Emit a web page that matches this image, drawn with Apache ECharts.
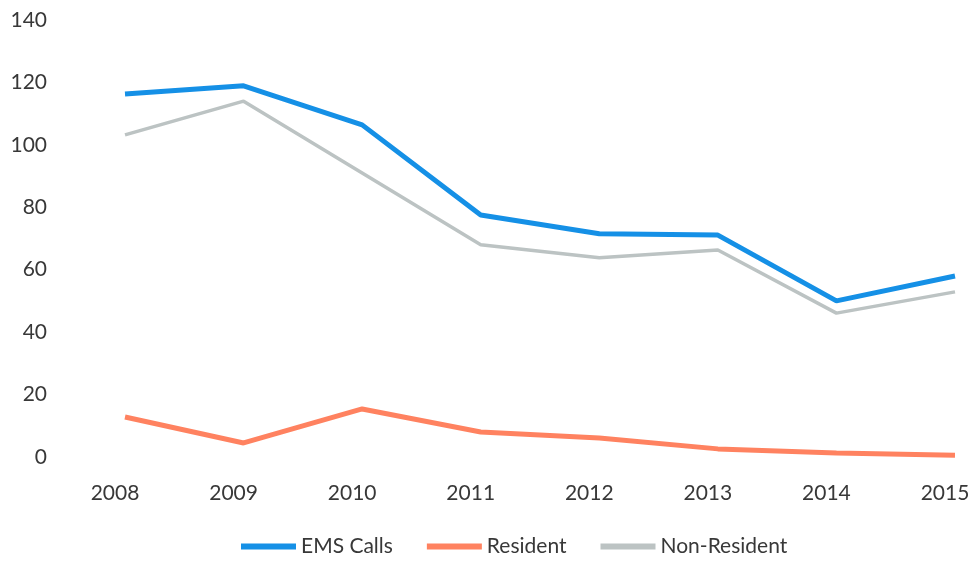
<!DOCTYPE html>
<html>
<head>
<meta charset="utf-8">
<script src="https://cdn.jsdelivr.net/npm/echarts@6/dist/echarts.min.js"></script>
<style>
  html, body { margin: 0; padding: 0; background: #fff; }
  #chart { width: 973px; height: 564px; }
</style>
</head>
<body>
<div id="chart"></div>
<script>
var years = ['2008', '2009', '2010', '2011', '2012', '2013', '2014', '2015'];
var emsCalls = [116.3, 118.9, 106.4, 77.5, 71.5, 71.1, 50, 58];
var resident = [12.8, 4.5, 15.4, 8, 6.1, 2.6, 1.3, 0.6];
var nonResident = [103.2, 114, 91, 68, 63.8, 66.3, 46.1, 52.9];

var myChart = echarts.init(document.getElementById('chart'));
var font = 'Lato, "Open Sans", sans-serif';

var option = {
    backgroundColor: '#fff',
    animation: false,
    grid: { left: 125, right: 18, top: 20, bottom: 107 },
    legend: {
        bottom: 2,
        left: 236,
        itemWidth: 55,
        itemHeight: 6,
        itemGap: 34,
        icon: 'rect',
        textStyle: { fontFamily: font, fontSize: 21, color: '#383838' },
        data: ['EMS Calls', 'Resident', 'Non-Resident']
    },
    xAxis: {
        type: 'category',
        data: years,
        boundaryGap: false,
        axisLine: { show: false },
        axisTick: { show: false },
        axisLabel: {
            margin: 26, fontFamily: font, fontSize: 21, color: '#383838',
            padding: [0, 20, 0, 0]
        }
    },
    yAxis: {
        type: 'value',
        min: 0,
        max: 140,
        interval: 20,
        splitLine: { show: false },
        axisLine: { show: false },
        axisTick: { show: false },
        axisLabel: { margin: 78, fontFamily: font, fontSize: 21, color: '#383838' }
    },
    series: [
        {
            name: 'EMS Calls', type: 'line', data: emsCalls,
            symbol: 'none', color: '#1590e6',
            lineStyle: { width: 5, color: '#1590e6' }
        },
        {
            name: 'Resident', type: 'line', data: resident,
            symbol: 'none', color: '#ff8260',
            lineStyle: { width: 5, color: '#ff8260' }
        },
        {
            name: 'Non-Resident', type: 'line', data: nonResident,
            symbol: 'none', color: '#bcc3c3',
            lineStyle: { width: 3.5, color: '#bcc3c3' }
        }
    ]
};
myChart.setOption(option);
</script>
</body>
</html>
